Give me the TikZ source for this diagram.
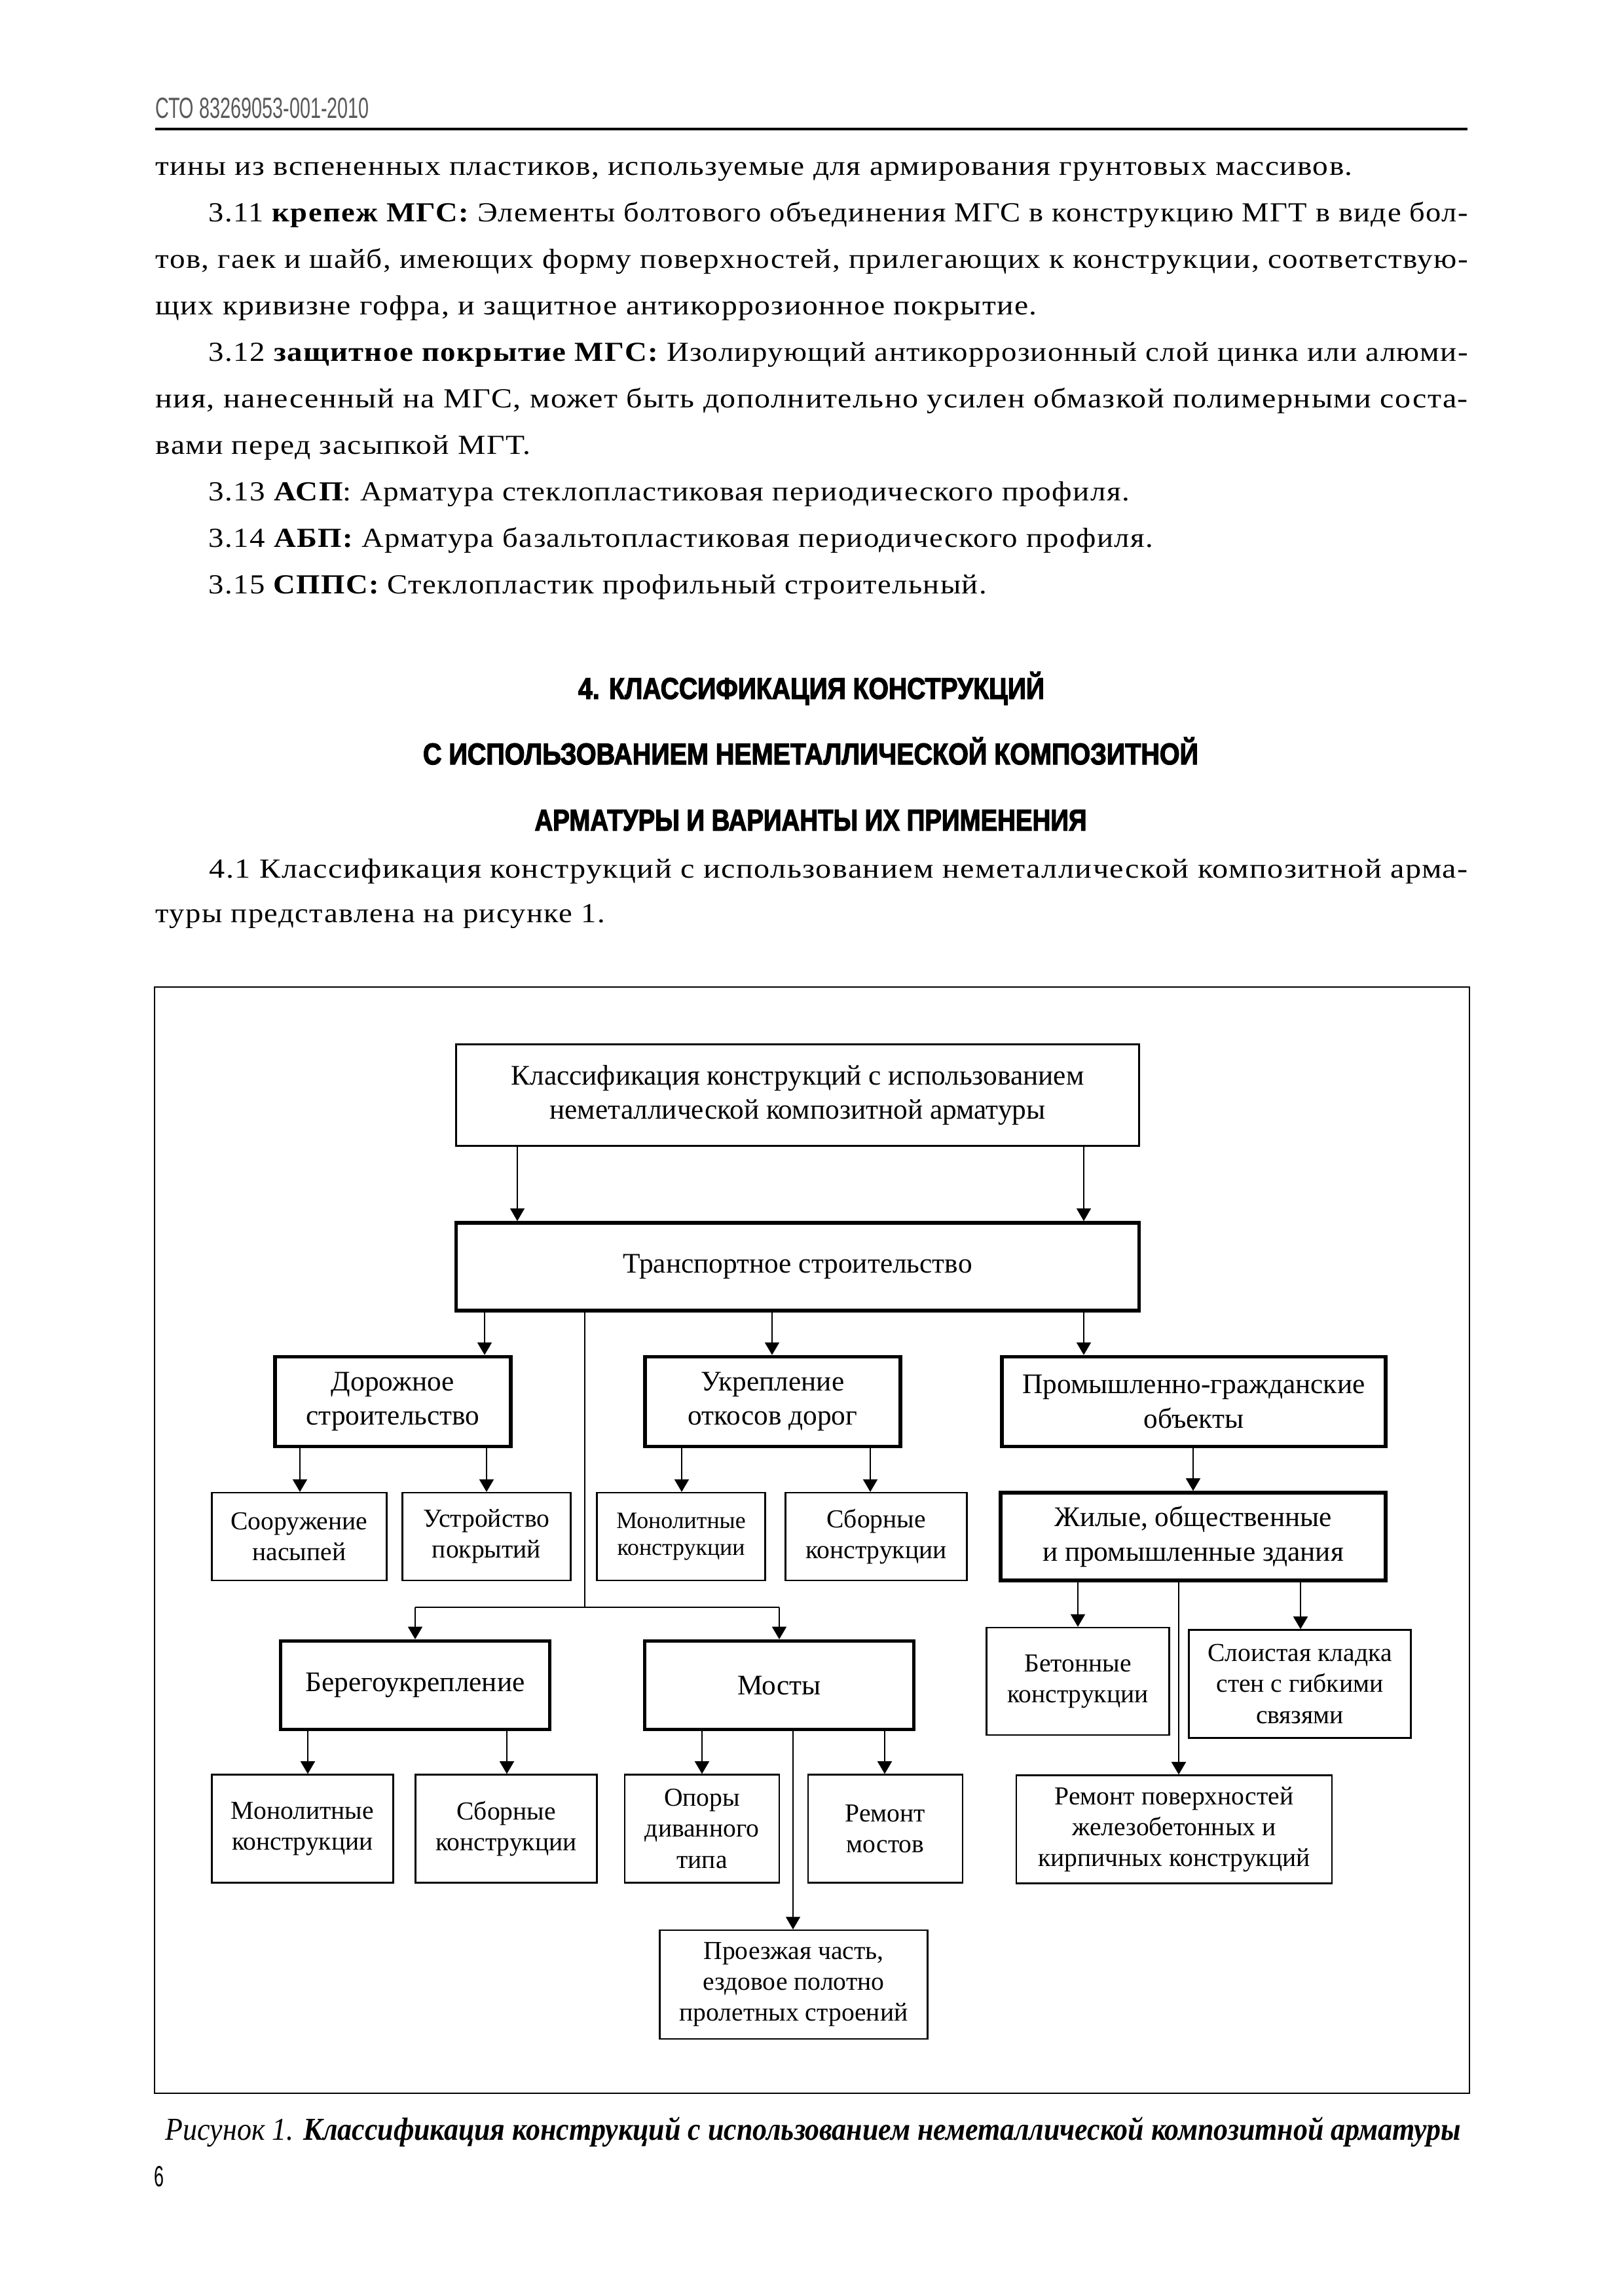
\documentclass[tikz,border=0pt]{standalone}
\usepackage{fontspec}
\usepackage{graphicx}
\setmainfont{Liberation Serif}
\newfontfamily\bodyfont[LetterSpace=3]{Liberation Serif}
\newfontfamily\narrowfont{Liberation Sans}
\newfontfamily\headfont[FakeBold=3]{Liberation Sans Bold}
\usetikzlibrary{arrows.meta}
\definecolor{hdrgray}{rgb}{0.35,0.35,0.35}

\newlength{\du}
\setlength{\du}{0.24pt}

\tikzset{
  bodyline/.style={anchor=base west, inner sep=0pt, font=\fontsize{10.1}{12}\bodyfont},
  headline/.style={anchor=base, inner sep=0pt, font=\fontsize{11}{12}\headfont},
  boxthin/.style={draw, line width=0.55pt, inner sep=0pt, align=center,
    font=\fontsize{9.5}{11.3}\selectfont},
  boxthick/.style={boxthin, line width=1.3pt, font=\fontsize{10.4}{12.6}\selectfont},
  arr/.style={line width=0.7pt, -{Triangle[length=4.6pt,width=5.2pt]}},
  thinline/.style={line width=0.5pt}
}

\begin{document}
\begin{tikzpicture}
\pgftransformxscale{1.000000}
\pgftransformyscale{-1.000000}
\useasboundingbox (0\du,0\du) rectangle (2480\du,3504\du);

% header
\node[anchor=base west, inner sep=0pt, text=hdrgray, font=\fontsize{10.7}{12}\narrowfont] (header) at (237\du,180\du)
  {\resizebox{326\du}{\height}{СТО 83269053-001-2010}};
\draw[line width=1pt] (237\du,197\du)--(2241\du,197\du);

% text before the heading
\node[bodyline] (line0) at (237\du,267\du) {\resizebox{1828\du}{\height}{тины из вспененных пластиков, используемые для армирования грунтовых массивов.}};
\node[bodyline] (line1) at (318\du,338\du) {\resizebox{1923\du}{\height}{3.11 {\bfseries крепеж МГС:} Элементы болтового объединения МГС в конструкцию МГТ в виде бол-}};
\node[bodyline] (line2) at (237\du,409\du) {\resizebox{2004\du}{\height}{тов, гаек и шайб, имеющих форму поверхностей, прилегающих к конструкции, соответствую-}};
\node[bodyline] (line3) at (237\du,480\du) {\resizebox{1346\du}{\height}{щих кривизне гофра, и защитное антикоррозионное покрытие.}};
\node[bodyline] (line4) at (318\du,551\du) {\resizebox{1923\du}{\height}{3.12 {\bfseries защитное покрытие МГС:} Изолирующий антикоррозионный слой цинка или алюми-}};
\node[bodyline] (line5) at (237\du,622\du) {\resizebox{2004\du}{\height}{ния, нанесенный на МГС, может быть дополнительно усилен обмазкой полимерными соста-}};
\node[bodyline] (line6) at (237\du,693\du) {\resizebox{572\du}{\height}{вами перед засыпкой МГТ.}};
\node[bodyline] (line7) at (318\du,764\du) {\resizebox{1406\du}{\height}{3.13 {\bfseries АСП}: Арматура стеклопластиковая периодического профиля.}};
\node[bodyline] (line8) at (318\du,835\du) {\resizebox{1442\du}{\height}{3.14 {\bfseries АБП:} Арматура базальтопластиковая периодического профиля.}};
\node[bodyline] (line9) at (318\du,906\du) {\resizebox{1188\du}{\height}{3.15 {\bfseries СППС:} Стеклопластик профильный строительный.}};

% heading
\node[headline] (head1) at (1239\du,1067\du) {\resizebox{712\du}{\height}{4. КЛАССИФИКАЦИЯ КОНСТРУКЦИЙ}};
\node[headline] (head2) at (1238\du,1167\du) {\resizebox{1184\du}{\height}{С ИСПОЛЬЗОВАНИЕМ НЕМЕТАЛЛИЧЕСКОЙ КОМПОЗИТНОЙ}};
\node[headline] (head3) at (1238\du,1268\du) {\resizebox{843\du}{\height}{АРМАТУРЫ И ВАРИАНТЫ ИХ ПРИМЕНЕНИЯ}};

\node[bodyline] (par1) at (319\du,1340\du) {\resizebox{1922\du}{\height}{4.1 Классификация конструкций с использованием неметаллической композитной арма-}};
\node[bodyline] (par2) at (237\du,1408\du) {\resizebox{686\du}{\height}{туры представлена на рисунке 1.}};

% figure frame
\draw[line width=0.6pt] (236\du,1507\du) rectangle (2244\du,3196\du);

% boxes
\node[boxthin, minimum width=1043\du, minimum height=155\du, font=\fontsize{10.4}{12.3}\selectfont] (top) at (1218\du,1672\du)
  {Классификация конструкций с использованием\\неметаллической композитной арматуры};
\node[boxthick, minimum width=1043\du, minimum height=134\du] (transport) at (1218\du,1934\du) {Транспортное строительство};

\node[boxthick, minimum width=360\du, minimum height=137\du] (dorozh) at (600\du,2140\du) {Дорожное\\строительство};
\node[boxthick, minimum width=390\du, minimum height=137\du] (ukrep) at (1180\du,2140\du) {Укрепление\\откосов дорог};
\node[boxthick, minimum width=586\du, minimum height=137\du] (prom) at (1823\du,2140\du) {Промышленно-гражданские\\объекты};

\node[boxthin, minimum width=267\du, minimum height=134\du] (soor) at (457\du,2346\du) {Сооружение\\насыпей};
\node[boxthin, minimum width=257\du, minimum height=134\du] (ustr) at (743\du,2346\du) {Устройство\\покрытий};
\node[boxthin, minimum width=257\du, minimum height=134\du, font=\fontsize{8.6}{10}\selectfont] (monol) at (1040\du,2346\du) {Монолитные\\конструкции};
\node[boxthin, minimum width=277\du, minimum height=134\du] (sborn) at (1338\du,2346\du) {Сборные\\конструкции};
\node[boxthick, minimum width=588\du, minimum height=134\du] (zhil) at (1822\du,2346\du) {Жилые, общественные\\и промышленные здания};

\node[boxthick, minimum width=411\du, minimum height=135\du] (bereg) at (634\du,2573\du) {Берегоукрепление};
\node[boxthick, minimum width=411\du, minimum height=135\du] (mosty) at (1190\du,2573\du) {Мосты};
\node[boxthin, minimum width=279\du, minimum height=164\du] (beton) at (1646\du,2567\du) {Бетонные\\конструкции};
\node[boxthin, minimum width=339\du, minimum height=165\du] (sloist) at (1985\du,2571\du) {Слоистая кладка\\стен с гибкими\\связями};

\node[boxthin, minimum width=277\du, minimum height=165\du] (mon2) at (462\du,2792\du) {Монолитные\\конструкции};
\node[boxthin, minimum width=277\du, minimum height=165\du] (sbor2) at (773\du,2792\du) {Сборные\\конструкции};
\node[boxthin, minimum width=236\du, minimum height=165\du] (opory) at (1072\du,2792\du) {Опоры\\диванного\\типа};
\node[boxthin, minimum width=236\du, minimum height=165\du] (remm) at (1352\du,2792\du) {Ремонт\\мостов};
\node[boxthin, minimum width=482\du, minimum height=165\du] (remp) at (1793\du,2793\du) {Ремонт поверхностей\\железобетонных и\\кирпичных конструкций};
\node[boxthin, minimum width=409\du, minimum height=166\du] (proezh) at (1212\du,3030\du) {Проезжая часть,\\ездовое полотно\\пролетных строений};

% connectors
\draw[arr, line width=0.5pt] (top.south -| 790\du,0)--(transport.north -| 790\du,0);
\draw[arr, line width=0.5pt] (top.south -| 1655\du,0)--(transport.north -| 1655\du,0);

\draw[arr] (transport.south -| 740\du,0)--(dorozh.north -| 740\du,0);
\draw[arr] (transport.south -| 1179\du,0)--(ukrep.north -| 1179\du,0);
\draw[arr] (transport.south -| 1655\du,0)--(prom.north -| 1655\du,0);

\coordinate (jn) at (893\du,2454\du);
\draw[thinline] (transport.south -| jn)--(jn);
\draw[thinline] (bereg.north |- jn)--(mosty.north |- jn);
\draw[arr] (bereg.north |- jn)--(bereg.north);
\draw[arr] (mosty.north |- jn)--(mosty.north);

\draw[arr] (dorozh.south -| 458\du,0)--(soor.north -| 458\du,0);
\draw[arr] (dorozh.south -| 743\du,0)--(ustr.north -| 743\du,0);
\draw[arr] (ukrep.south -| 1041\du,0)--(monol.north -| 1041\du,0);
\draw[arr] (ukrep.south -| 1329\du,0)--(sborn.north -| 1329\du,0);
\draw[arr] (prom.south -| 1822\du,0)--(zhil.north -| 1822\du,0);

\draw[arr] (zhil.south -| 1646\du,0)--(beton.north -| 1646\du,0);
\draw[arr] (zhil.south -| 1986\du,0)--(sloist.north -| 1986\du,0);
\draw[arr] (zhil.south -| 1800\du,0)--(remp.north -| 1800\du,0);

\draw[arr] (bereg.south -| 470\du,0)--(mon2.north -| 470\du,0);
\draw[arr] (bereg.south -| 774\du,0)--(sbor2.north -| 774\du,0);
\draw[arr] (mosty.south -| 1072\du,0)--(opory.north -| 1072\du,0);
\draw[arr] (mosty.south -| 1351\du,0)--(remm.north -| 1351\du,0);
\draw[arr, line width=0.5pt] (mosty.south -| 1211\du,0)--(proezh.north -| 1211\du,0);

% caption and page number
\node[anchor=base west, inner sep=0pt, font=\fontsize{11.7}{14}\selectfont\itshape] (caption) at (252\du,3267\du)
  {\resizebox{1978\du}{\height}{Рисунок 1. {\bfseries Классификация конструкций с использованием неметаллической композитной арматуры}}};
\node[anchor=base west, inner sep=0pt, font=\fontsize{10.7}{12}\narrowfont] (pagenum) at (235\du,3338\du)
  {\resizebox{15\du}{\height}{6}};
\end{tikzpicture}
\end{document}
